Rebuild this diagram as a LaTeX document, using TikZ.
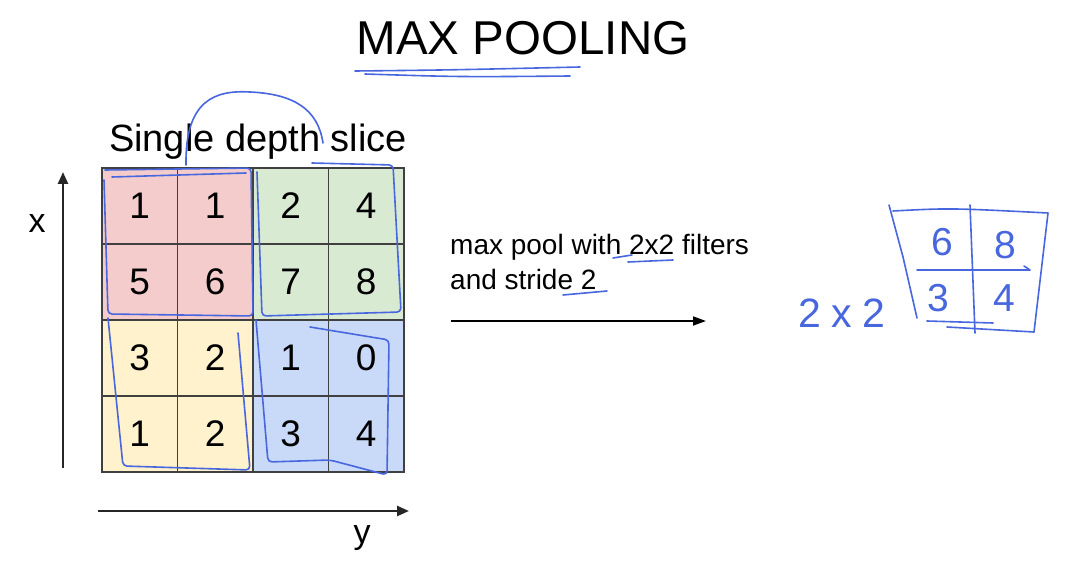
\documentclass[tikz,border=0pt]{standalone}
\usepackage{fontspec}
\setmainfont{Liberation Sans}
\usetikzlibrary{arrows.meta, positioning}
\definecolor{quadred}{HTML}{F4CCCC}
\definecolor{quadgreen}{HTML}{D9EAD3}
\definecolor{quadyellow}{HTML}{FFF2CC}
\definecolor{quadblue}{HTML}{C9DAF8}
\definecolor{pen}{RGB}{72,102,222}
\tikzset{
  every node/.style={font=\fontsize{37}{44}\selectfont},
  cell/.style={
    draw=black!75, line width=1.2pt, minimum width=75.5pt, minimum height=76pt,
    inner sep=0pt, text=black
  },
  axis/.style={-{Triangle[length=12pt,width=10pt]}, line width=2.4pt, black!85},
  arr/.style={-{Triangle[length=13pt,width=9pt]}, line width=1.8pt},
  pen/.style={draw=pen, line width=1.6pt, line cap=round, line join=round},
  handtext/.style={text=pen, font=\fontsize{39}{44}\selectfont},
}
\begin{document}
\begin{tikzpicture}[x=1pt, y=-1pt]
  \fill[white] (0,0) rectangle (1092,564);
  \useasboundingbox (0,0) rectangle (1092,564);

  % Titles
  \node[font=\fontsize{47.5}{52}\selectfont, anchor=base] (title) at (523,55) {MAX POOLING};
  \node[font=\fontsize{38}{44}\selectfont, anchor=base] (slice) at (258,152) {Single depth slice};

  % Input slice, one cell per value
  \foreach \vals [count=\r] in {
      {1/quadred,1/quadred,2/quadgreen,4/quadgreen},
      {5/quadred,6/quadred,7/quadgreen,8/quadgreen},
      {3/quadyellow,2/quadyellow,1/quadblue,0/quadblue},
      {1/quadyellow,2/quadyellow,3/quadblue,4/quadblue}}
    \foreach \v/\c [count=\k] in \vals
      \node[cell, fill=\c] (c\r\k) at ({102+75.5*(\k-0.5)}, {168+76*(\r-0.5)}) {\v};

  % Axes
  \coordinate (xfrom) at (63,468);
  \coordinate (xto) at (63,172);
  \draw[axis] (xfrom) -- (xto);
  \node[font=\fontsize{34}{40}\selectfont] (xlab) at (37,224) {x};
  \coordinate (yfrom) at (98,511);
  \coordinate (yto) at (409,511);
  \draw[axis] (yfrom) -- (yto);
  \node[font=\fontsize{34}{40}\selectfont] (ylab) at (362,538) {y};

  % Pooling step
  \node[font=\fontsize{28}{35}\selectfont, align=left, anchor=north west, inner sep=0pt]
    (desc) at (450,234) {max pool with 2x2 filters\\and stride 2};
  \coordinate (pfrom) at (451,321);
  \coordinate (pto) at (706,321);
  \draw[arr] (pfrom) -- (pto);

  % Handwritten result
  \draw[pen] (889,205) -- (903,257) -- (917,318);
  \draw[pen] (893,211) .. controls (950,208) .. (1048,213) -- (1034,332);
  \draw[pen] (970,205) -- (975,333);
  \draw[pen] (917,270) -- (1030,270) -- (1024,266);
  \draw[pen] (927,321) -- (993,323);
  \draw[pen] (947,327) -- (1034,332);
  \node[handtext] (o11) at (942,242) {6};
  \node[handtext] (o12) at (1005,245) {8};
  \node[handtext] (o21) at (938,298) {3};
  \node[handtext] (o22) at (1004,298) {4};
  \node[handtext, font=\fontsize{41}{44}\selectfont] (osize) at (842,313) {2\kern10pt x\kern10pt 2};

  % Pen marks on the slide
  \draw[pen, rounded corners=4pt] (105,170) -- (251,168) -- (253,316) -- (108,314) -- (104,180);
  \draw[pen] (112,177) -- (246,173);
  \draw[pen, rounded corners=4pt] (312,163) -- (393,165) -- (401,312) -- (262,316) -- (257,172);
  \draw[pen, rounded corners=4pt] (108,318) -- (123,466) -- (250,470) -- (238,333);
  \draw[pen, rounded corners=4pt] (256,320) -- (268,462) -- (330,460) -- (387,475) -- (389,340) -- (310,327);
  \draw[pen] (186,165) .. controls (185,100) and (215,90) .. (250,92)
    .. controls (295,94) and (318,110) .. (323,143);
  \draw[pen] (355,71) .. controls (450,70) .. (580,67);
  \draw[pen] (365,74) .. controls (460,77) .. (570,76);
  \draw[pen] (613,258) -- (632,255);
  \draw[pen] (628,262) -- (673,260);
  \draw[pen] (563,295) -- (607,291);
\end{tikzpicture}
\end{document}
